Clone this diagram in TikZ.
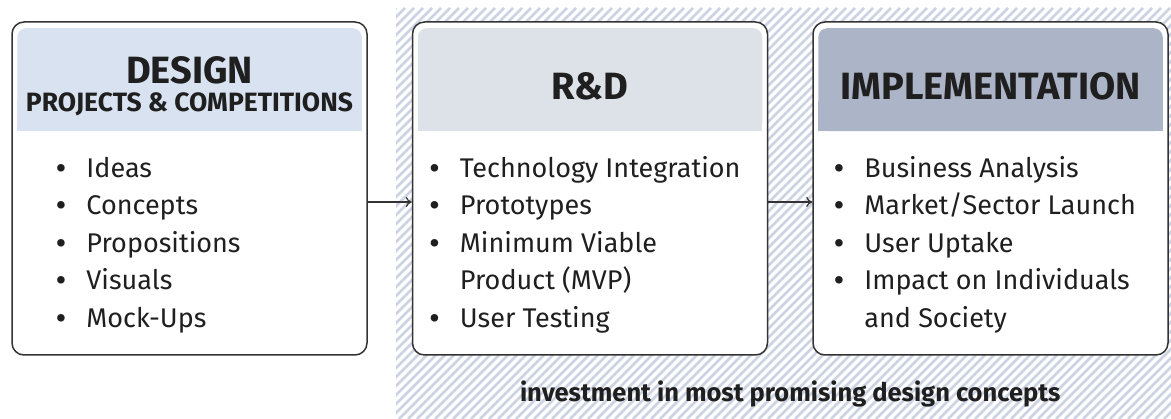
\documentclass[tikz,border=0pt]{standalone}
\usepackage{fontspec}
\setmainfont{Fira Sans}
\usetikzlibrary{arrows.meta, positioning, calc}

\definecolor{designhead}{RGB}{217,226,240}
\definecolor{rndhead}{RGB}{221,225,232}
\definecolor{implhead}{RGB}{171,181,199}
\definecolor{hatchblue}{RGB}{204,211,227}
\definecolor{edge}{RGB}{51,51,51}

\newcommand{\itm}[1]{\makebox[31pt][l]{\hspace*{1pt}\bfseries\textbullet}#1}
\newcommand{\cont}[1]{\hspace*{31pt}#1}

\begin{document}
\begin{tikzpicture}[
    x=1pt, y=-1pt,
    node distance=44pt,
    >={To[length=6pt, width=10pt]},
    stage/.style={rectangle, draw=edge, fill=white, line width=1.5pt, rounded corners=12pt,
      minimum width=355pt, minimum height=333pt, inner sep=0pt},
    title/.style={font=\fontsize{38}{44}\selectfont\bfseries, text=black!88, inner sep=0pt},
    subtitle/.style={font=\fontsize{26.5}{30}\selectfont\bfseries, text=black!88, inner sep=0pt},
    note/.style={font=\fontsize{25.5}{30}\selectfont\bfseries, text=black!88, inner sep=0pt},
    items/.style={font=\fontsize{27}{37.5}\selectfont, text=black!88, align=left, inner sep=0pt},
    link/.style={->, draw=edge, line width=1.3pt}
  ]
    \useasboundingbox (0,0) rectangle (1171,419);

    % hatched band behind the last two stages
    \begin{scope}
      \clip (396,8) rectangle (1171,419);
      \foreach \hx in {-15,-6,...,1171}
        \draw[hatchblue, line width=2.6pt] (\hx,419) -- ++(411,-411);
    \end{scope}

    \node[stage] (design) at (189.5,188.5) {};
    \node[stage, right=of design] (rnd) {};
    \node[stage, right=of rnd] (impl) {};

    % header panels
    \foreach \stg/\col in {design/designhead, rnd/rndhead, impl/implhead} {
      \fill[\col, rounded corners=9pt] ($(\stg.north west)+(6,7)$) rectangle ($(\stg.north east)+(-6,110)$);
      \fill[\col] ($(\stg.north west)+(6,80)$) rectangle ($(\stg.north east)+(-6,110)$);
    }

    \node[title, anchor=base] (designtitle) at ($(design.north)+(0,62)$) {DESIGN};
    \node[subtitle, anchor=base] (designsub) at ($(design.north)+(0,90)$) {PROJECTS \& COMPETITIONS};
    \node[title, anchor=base] (rndtitle) at ($(rnd.north)+(0,78)$) {R\&D};
    \node[title, anchor=base] (impltitle) at ($(impl.north)+(0,78)$) {IMPLEMENTATION};

    \node[items, anchor=north west] (designlist) at ($(design.north west)+(44,129.75)$)
      {\strut\itm{Ideas}\\ \itm{Concepts}\\ \itm{Propositions}\\ \itm{Visuals}\\ \itm{Mock-Ups}};
    \node[items, anchor=north west] (rndlist) at ($(rnd.north west)+(17,129.75)$)
      {\strut\itm{Technology Integration}\\ \itm{Prototypes}\\ \itm{Minimum Viable}\\ \cont{Product (MVP)}\\ \itm{User Testing}};
    \node[items, anchor=north west] (impllist) at ($(impl.north west)+(21,129.75)$)
      {\strut\itm{Business Analysis}\\ \itm{Market/Sector Launch}\\ \itm{User Uptake}\\ \itm{Impact on Individuals}\\ \cont{and Society}};

    \draw[link] (design.east |- 0,202) -- (rnd.west |- 0,202);
    \draw[link] (rnd.east |- 0,202) -- (impl.west |- 0,202);

    \node[note, anchor=base] (invest) at ($(rnd.south)!0.5!(impl.south)+(0,46)$)
      {investment in most promising design concepts};
  \end{tikzpicture}
\end{document}
